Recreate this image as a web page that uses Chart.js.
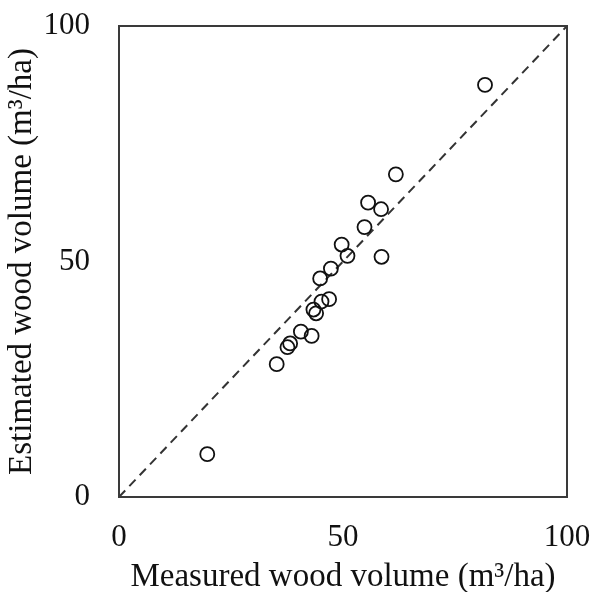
<!DOCTYPE html>
<html>
<head>
<meta charset="utf-8">
<script src="https://cdn.jsdelivr.net/npm/chart.js@4.4.1/dist/chart.umd.min.js"></script>
<style>
  html, body { margin: 0; padding: 0; background: #fff; }
  #wrap { width: 593px; height: 592px; }
</style>
</head>
<body>
<div id="wrap"><canvas id="chart"></canvas></div>
<script>
// measured vs estimated wood volume (m3/ha)
const measured  = [81.7, 61.8, 55.6, 58.5, 54.8, 49.7, 51.0, 58.6, 47.3, 44.9, 46.9, 45.2, 43.4, 44.0, 40.6, 43.0, 38.2, 37.6, 35.2, 19.7];
const estimated = [87.5, 68.5, 62.5, 61.1, 57.3, 53.6, 51.2, 51.0, 48.5, 46.4, 42.0, 41.5, 39.8, 39.0, 35.1, 34.2, 32.6, 31.8, 28.2, 9.1];
const oneToOne = [0, 100];
const axisTicks = [0, 50, 100];

const serif = 'Liberation Serif, Times New Roman, serif';

// box around the plot area
const frame = {
  id: 'frame',
  afterDatasetsDraw(chart) {
    const a = chart.chartArea, ctx = chart.ctx;
    ctx.save();
    ctx.strokeStyle = '#3a3a3a';
    ctx.lineWidth = 2;
    ctx.strokeRect(a.left, a.top, a.right - a.left, a.bottom - a.top);
    ctx.restore();
  }
};

new Chart(document.getElementById('chart'), {
  type: 'scatter',
  data: {
    datasets: [
      {
        label: 'obs',
        data: measured.map((m, i) => ({ x: m, y: estimated[i] })),
        pointStyle: 'circle',
        pointRadius: 7,
        pointHoverRadius: 7,
        pointBorderWidth: 1.8,
        pointBorderColor: '#111',
        pointBackgroundColor: 'rgba(0,0,0,0)'
      },
      {
        label: '1:1',
        type: 'line',
        data: oneToOne.map(v => ({ x: v, y: v })),
        borderColor: '#333',
        borderWidth: 2,
        borderDash: [9, 6],
        pointRadius: 0,
        fill: false
      }
    ]
  },
  options: {
    responsive: true,
    maintainAspectRatio: false,
    animation: false,
    layout: { padding: { top: 26, right: 26, left: 0, bottom: 0 } },
    plugins: { legend: { display: false }, tooltip: { enabled: false } },
    scales: {
      x: {
        type: 'linear',
        min: 0, max: 100,
        afterBuildTicks: s => { s.ticks = axisTicks.map(v => ({ value: v })); },
        afterFit: s => { s.height = 95; s.paddingLeft = 0; s.paddingRight = 0; },
        grid: { display: false, drawTicks: false },
        border: { display: false },
        ticks: { padding: 22, color: '#111', font: { family: serif, size: 31 } },
        title: {
          display: true,
          text: 'Measured wood volume (m³/ha)',
          color: '#111',
          padding: { top: 0, bottom: 0 },
          font: { family: serif, size: 33, lineHeight: 0.9 }
        }
      },
      y: {
        type: 'linear',
        min: 0, max: 100,
        afterBuildTicks: s => { s.ticks = axisTicks.map(v => ({ value: v })); },
        afterFit: s => { s.width = 119; s.paddingTop = 0; s.paddingBottom = 0; },
        grid: { display: false, drawTicks: false },
        border: { display: false },
        ticks: { padding: 29, color: '#111', font: { family: serif, size: 31 } },
        title: {
          display: true,
          text: 'Estimated wood volume (m³/ha)',
          color: '#111',
          padding: { top: 7, bottom: 0 },
          font: { family: serif, size: 33, lineHeight: 0.9 }
        }
      }
    }
  },
  plugins: [frame]
});
</script>
</body>
</html>
